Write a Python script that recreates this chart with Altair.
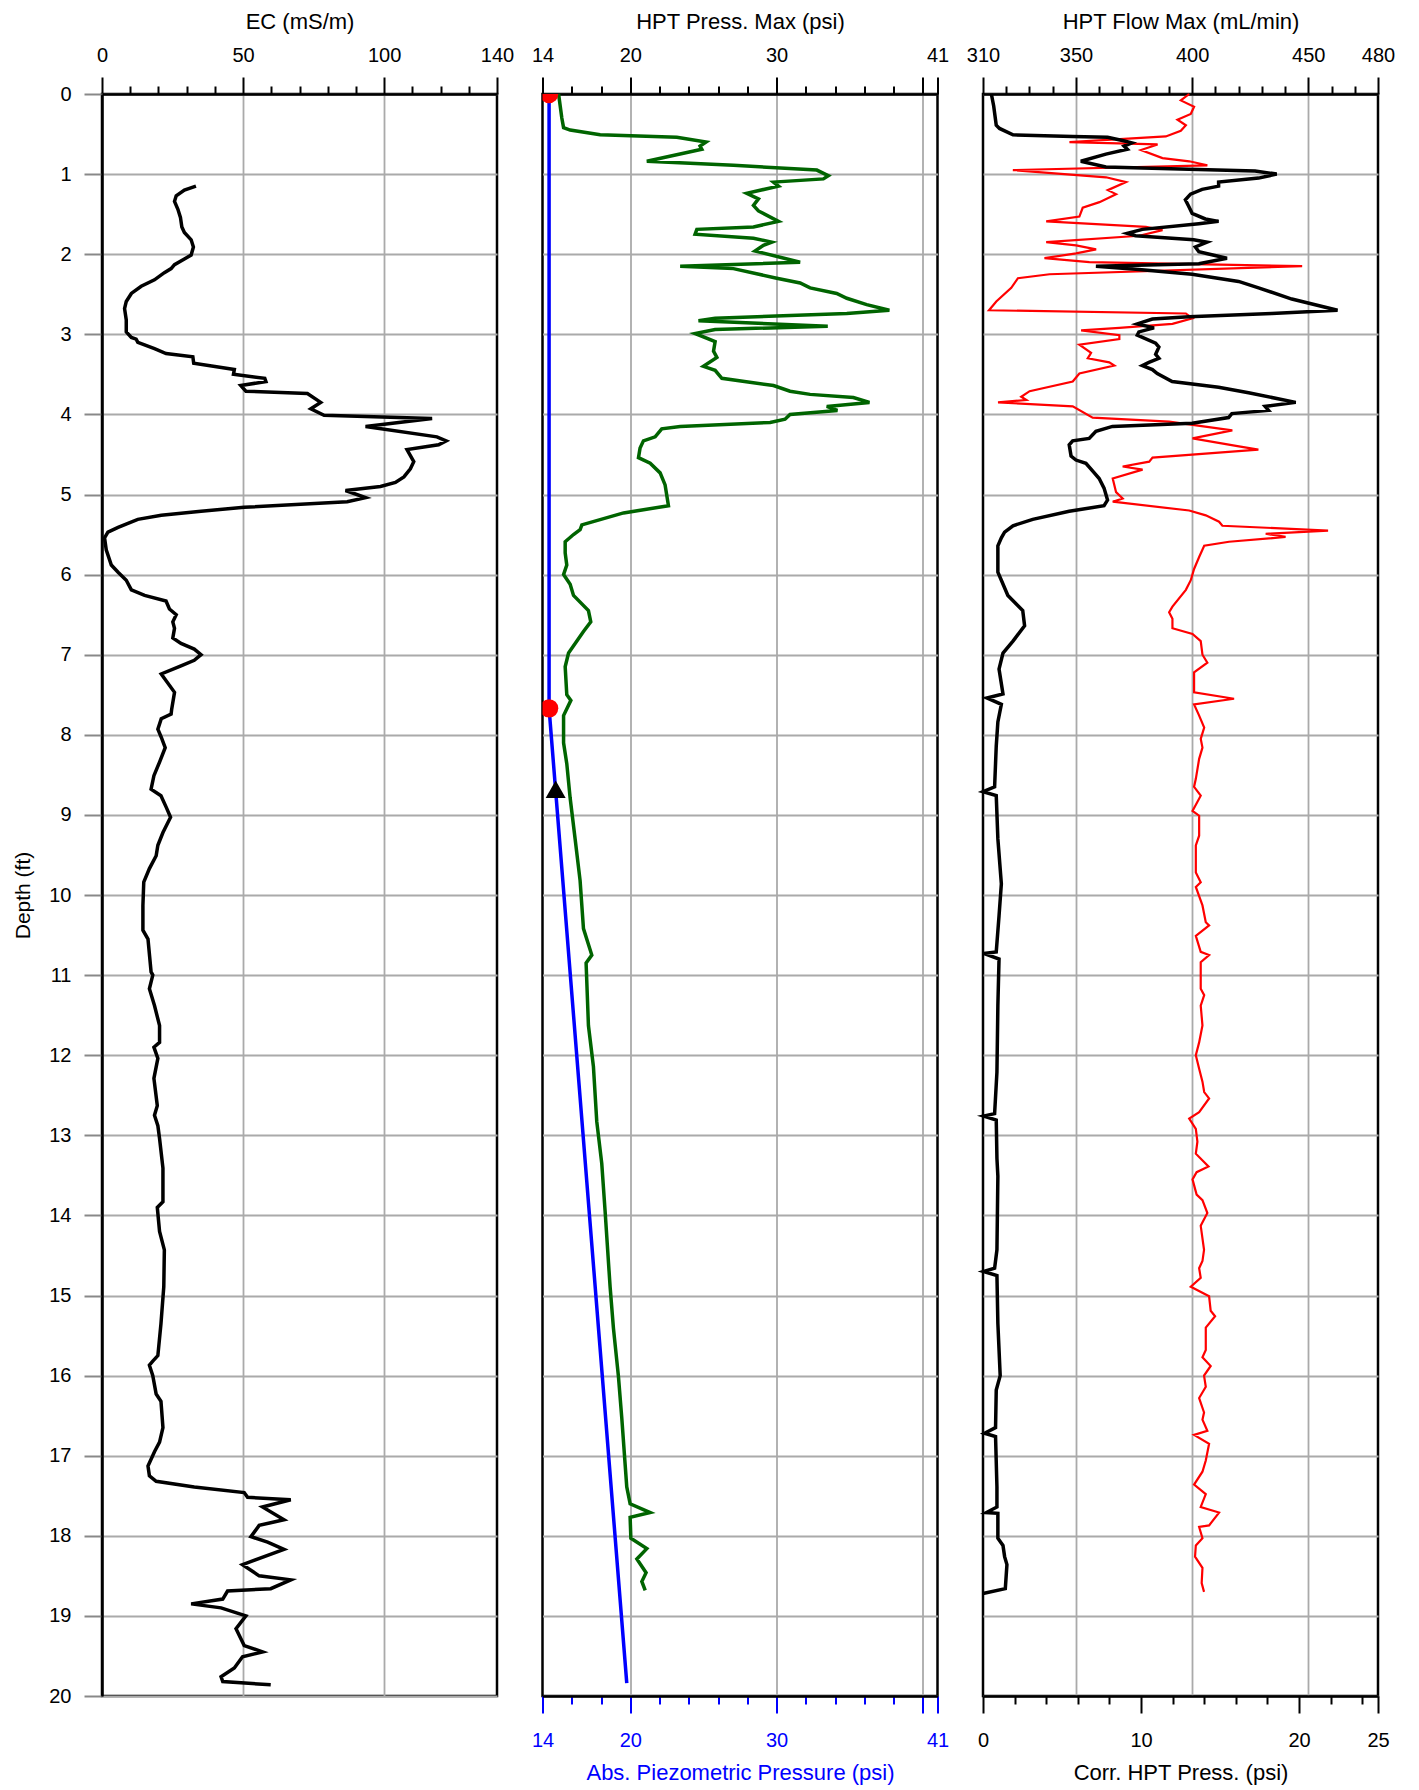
import altair as alt
import pandas as pd

FONT = "Liberation Sans"
W, H = 395, 1602

# ---------------- EC (mS/m) ----------------
ec_depth = [1.15, 1.20, 1.27, 1.34, 1.44, 1.54, 1.66, 1.73, 1.82, 1.91, 2.01, 2.06, 2.13, 2.18, 2.23,
            2.32, 2.40, 2.49, 2.59, 2.68, 2.82, 2.97, 3.04, 3.06, 3.10, 3.18, 3.24, 3.28, 3.36, 3.44,
            3.50, 3.55, 3.59, 3.64, 3.71, 3.74, 3.85, 3.93, 4.01, 4.05, 4.15, 4.28, 4.33, 4.38, 4.44,
            4.59, 4.68, 4.78, 4.85, 4.90, 4.95, 5.04, 5.09, 5.16, 5.21, 5.26, 5.31, 5.36, 5.41, 5.47,
            5.54, 5.69, 5.88, 5.97, 6.07, 6.19, 6.26, 6.33, 6.43, 6.50, 6.59, 6.67, 6.79, 6.86, 6.93,
            7.00, 7.07, 7.14, 7.24, 7.47, 7.68, 7.74, 7.80, 7.93, 8.03, 8.16, 8.34, 8.51, 8.68, 8.76,
            8.90, 9.03, 9.22, 9.38, 9.51, 9.67, 9.84, 10.13, 10.44, 10.55, 10.96, 11.00, 11.17, 11.38,
            11.63, 11.84, 11.90, 12.04, 12.29, 12.63, 12.75, 12.88, 13.04, 13.41, 13.83, 13.90, 14.20,
            14.43, 14.89, 15.35, 15.75, 15.82, 15.87, 16.00, 16.23, 16.32, 16.65, 16.83, 16.95, 17.13,
            17.25, 17.32, 17.39, 17.46, 17.52, 17.55, 17.64, 17.80, 17.87, 18.01, 18.08, 18.17, 18.36,
            18.50, 18.55, 18.66, 18.69, 18.79, 18.85, 18.90, 19.00, 19.16, 19.37, 19.45, 19.51, 19.65,
            19.76, 19.82, 19.86]
ec_val = [33.3, 29.2, 26.3, 25.7, 26.9, 27.8, 28.3, 29.2, 31.6, 32.4, 31.6, 29.2, 25.7, 24.5, 22.1,
          18.6, 13.9, 10.4, 8.6, 8.0, 8.6, 8.6, 10.4, 12.1, 12.7, 18.6, 22.7, 32.2, 32.5, 46.9,
          46.6, 57.7, 58.1, 49.2, 51.0, 72.8, 77.5, 74.0, 78.7, 117.0, 93.4, 118.7, 122.0, 119.3, 108.1,
          110.5, 109.3, 107.0, 104.0, 98.7, 86.3, 93.4, 86.9, 50.4, 35.1, 21.0, 12.7, 9.2, 5.7, 2.1,
          0.9, 1.5, 3.3, 5.7, 8.6, 10.4, 15.1, 22.7, 23.9, 26.3, 25.1, 25.7, 25.1, 28.0, 32.7,
          35.1, 32.7, 28.0, 21.0, 25.7, 24.7, 24.5, 21.0, 19.8, 21.0, 22.4, 20.4, 18.4, 17.4, 20.9,
          22.7, 24.3, 21.6, 19.8, 19.2, 16.8, 14.8, 14.5, 14.5, 16.3, 17.4, 18.0, 16.8, 18.6,
          20.4, 20.4, 18.4, 19.8, 18.4, 19.6, 18.6, 19.8, 20.4, 21.6, 21.6, 19.6, 20.4,
          22.1, 21.9, 20.9, 19.8, 18.0, 16.8, 18.0, 19.2, 20.9, 21.6, 20.4, 18.6, 16.3,
          16.8, 19.2, 32.7, 50.4, 51.6, 66.9, 56.9, 64.5, 55.7, 52.8, 58.7, 64.5, 49.8,
          55.7, 66.9, 59.8, 44.5, 42.8, 31.6, 42.2, 51.0, 47.5, 50.4, 56.9, 49.8, 46.9,
          42.2, 42.8, 59.8]

# ---------------- HPT Press. Max (psi) ----------------
press_depth = [0.00, 0.15, 0.30, 0.42, 0.45, 0.51, 0.54, 0.60, 0.65, 0.69, 0.84, 0.89, 0.95, 1.02, 1.06,
               1.10, 1.15, 1.24, 1.31, 1.39, 1.46, 1.59, 1.66, 1.69, 1.75, 1.80, 1.85, 1.89, 1.96, 2.10,
               2.15, 2.18, 2.30, 2.36, 2.42, 2.49, 2.55, 2.63, 2.70, 2.74, 2.80, 2.83, 2.90, 2.94, 2.99,
               3.09, 3.21, 3.29, 3.40, 3.45, 3.55, 3.64, 3.71, 3.75, 3.79, 3.85, 3.90, 3.95, 4.00, 4.06,
               4.10, 4.15, 4.18, 4.28, 4.33, 4.42, 4.54, 4.61, 4.73, 4.88, 5.14, 5.23, 5.38, 5.44, 5.50,
               5.59, 5.73, 5.88, 6.00, 6.12, 6.26, 6.45, 6.59, 6.71, 6.83, 6.98, 7.15, 7.50, 7.57, 7.76,
               8.10, 8.36, 8.79, 9.30, 9.82, 10.42, 10.75, 10.85, 11.63, 12.14, 12.83, 13.35, 13.95,
               14.89, 15.41, 16.01, 16.53, 17.39, 17.60, 17.71, 17.77, 18.03, 18.16, 18.29, 18.46,
               18.57, 18.68]
press_val = [15.10, 15.21, 15.32, 15.44, 15.89, 17.94, 23.18, 25.18, 24.77, 24.89, 21.13, 27.05, 32.75, 33.54, 33.20,
             29.79, 30.13, 27.96, 28.76, 28.42, 28.76, 30.13, 28.42, 24.55, 24.43, 28.42, 29.67, 29.10, 28.53, 31.61,
             23.41, 27.05, 30.01, 31.61, 32.29, 34.11, 34.80, 36.16, 37.71, 34.80, 25.80, 24.66, 33.50, 25.80, 24.43,
             25.80, 25.69, 25.92, 25.00, 25.80, 26.26, 29.79, 30.92, 32.29, 35.25, 36.35, 33.43, 34.16, 30.92, 30.58,
             29.56, 23.41, 22.15, 21.70, 20.90, 20.67, 20.56, 21.36, 22.04, 22.38, 22.61, 19.54, 16.69, 16.57, 16.12,
             15.55, 15.55, 15.66, 15.44, 15.89, 16.12, 17.14, 17.30, 16.80, 16.35, 15.78, 15.55, 15.66, 15.94, 15.44,
             15.44, 15.66, 15.89, 16.23, 16.57, 16.80, 17.37, 16.98, 17.14, 17.48, 17.71, 18.05, 18.28,
             18.62, 18.85, 19.19, 19.42, 19.76, 19.99, 21.36, 19.99, 20.04, 21.13, 20.45, 21.08,
             20.79, 21.02]

# ---------------- Abs. Piezometric Pressure (psi) ----------------
piezo_depth = [0.0, 7.67, 19.84]
piezo_val = [14.45, 14.45, 19.76]
dot_depth = [0.0, 7.67]
dot_val = [14.45, 14.45]
tri_depth = [8.68]
tri_val = [14.9]

# ---------------- HPT Flow Max (mL/min) ----------------
flow_depth = [0.00, 0.15, 0.39, 0.43, 0.51, 0.53, 0.54, 0.58, 0.61, 0.65, 0.69, 0.75, 0.84, 0.91, 0.94,
              0.96, 1.00, 1.05, 1.10, 1.15, 1.19, 1.25, 1.32, 1.39, 1.49, 1.56, 1.59, 1.62, 1.69, 1.74,
              1.77, 1.82, 1.85, 1.91, 1.97, 2.05, 2.12, 2.15, 2.19, 2.25, 2.34, 2.42, 2.56, 2.70, 2.74,
              2.78, 2.81, 2.87, 2.92, 2.97, 3.01, 3.11, 3.16, 3.25, 3.30, 3.35, 3.39, 3.44, 3.49, 3.59,
              3.66, 3.73, 3.85, 3.90, 3.95, 3.99, 4.04, 4.11, 4.15, 4.21, 4.30, 4.33, 4.38, 4.52, 4.57,
              4.61, 4.73, 4.80, 4.92, 5.07, 5.14, 5.21, 5.31, 5.39, 5.47, 5.54, 5.64, 5.97, 6.07, 6.26,
              6.45, 6.64, 6.83, 6.98, 7.18, 7.49, 7.54, 7.62, 7.84, 8.14, 8.65, 8.71, 8.76, 9.30, 9.86,
              10.26, 10.71, 10.73, 10.80, 11.38, 12.21, 12.73, 12.76, 12.81, 13.29, 13.51, 14.43, 14.66,
              14.70, 14.75, 15.35, 16.00, 16.18, 16.65, 16.72, 16.76, 17.39, 17.64, 17.71, 17.72, 18.03,
              18.12, 18.26, 18.36, 18.66, 18.72]
flow_val = [313.6, 314.6, 315.7, 317.1, 322.9, 348.6, 363.6, 370.0, 374.0, 370.7, 372.1, 362.9, 352.1, 362.9, 398.6,
            427.1, 436.4, 428.6, 411.4, 411.4, 404.3, 399.3, 397.1, 398.3, 400.0, 405.7, 411.4, 402.9, 378.6, 372.1,
            375.7, 400.7, 406.4, 401.4, 402.9, 415.0, 402.9, 358.6, 377.1, 400.0, 420.0, 428.6, 442.9, 462.6, 434.3,
            398.6, 382.9, 376.4, 383.6, 377.1, 376.4, 384.3, 385.7, 384.3, 385.7, 381.4, 378.6, 382.9, 385.0, 391.4,
            411.4, 424.3, 444.6, 431.4, 432.9, 417.1, 415.7, 400.0, 365.7, 358.6, 355.7, 348.6, 347.1, 347.9, 350.0,
            354.3, 357.9, 360.0, 362.1, 363.6, 362.1, 347.1, 331.4, 322.9, 319.3, 317.9, 316.4, 316.4, 317.9, 320.7,
            327.1, 327.9, 322.9, 318.6, 316.9, 318.6, 311.7, 317.9, 316.4, 315.7, 315.0, 310.0, 315.7, 316.4, 317.9,
            316.9, 315.7, 310.3, 316.9, 316.4, 316.0, 315.0, 310.3, 315.7, 316.0, 316.4, 316.0, 315.0,
            310.3, 316.0, 316.4, 317.4, 315.7, 315.4, 310.7, 315.4, 316.0, 316.0, 311.4, 316.4, 316.4,
            318.6, 319.3, 320.3, 319.6, 310.0]

# ---------------- Corr. HPT Press. (psi) ----------------
corr_depth = [0.00, 0.08, 0.16, 0.25, 0.32, 0.39, 0.46, 0.53, 0.60, 0.63, 0.70, 0.80, 0.84, 0.89, 0.95,
              1.04, 1.10, 1.20, 1.25, 1.35, 1.42, 1.53, 1.59, 1.66, 1.70, 1.77, 1.85, 1.89, 1.94, 1.99,
              2.05, 2.10, 2.15, 2.25, 2.30, 2.42, 2.59, 2.70, 2.74, 2.80, 2.87, 2.92, 2.95, 3.01, 3.06,
              3.13, 3.23, 3.30, 3.35, 3.39, 3.49, 3.59, 3.71, 3.78, 3.82, 3.85, 3.90, 4.04, 4.09, 4.20,
              4.30, 4.40, 4.44, 4.54, 4.59, 4.65, 4.69, 4.80, 4.97, 5.05, 5.09, 5.20, 5.26, 5.34, 5.39,
              5.45, 5.49, 5.53, 5.59, 5.64, 5.78, 5.93, 6.07, 6.19, 6.40, 6.47, 6.55, 6.67, 6.74, 6.83,
              7.00, 7.10, 7.22, 7.47, 7.55, 7.62, 7.76, 7.91, 8.05, 8.16, 8.30, 8.55, 8.65, 8.76, 8.95,
              9.01, 9.26, 9.38, 9.72, 9.84, 9.90, 10.13, 10.34, 10.38, 10.51, 10.71, 10.75, 10.84, 11.17,
              11.25, 11.38, 11.63, 11.84, 12.00, 12.17, 12.33, 12.46, 12.54, 12.71, 12.79, 12.92, 13.08,
              13.23, 13.39, 13.46, 13.55, 13.74, 13.81, 13.97, 14.13, 14.43, 14.57, 14.66, 14.78, 14.89,
              15.01, 15.19, 15.26, 15.40, 15.68, 15.77, 15.88, 16.00, 16.14, 16.28, 16.46, 16.55, 16.69,
              16.74, 16.85, 17.06, 17.20, 17.36, 17.48, 17.64, 17.71, 17.87, 17.89, 18.03, 18.12, 18.26,
              18.40, 18.59, 18.70]
corr_val = [13.05, 12.52, 13.36, 13.15, 12.31, 12.84, 12.52, 11.57, 5.47, 11.05, 10.00, 11.36, 13.05, 14.20, 1.89,
            7.79, 9.05, 7.90, 8.42, 7.37, 6.31, 6.10, 4.00, 10.31, 11.36, 9.89, 4.00, 5.89, 7.16, 5.89,
            3.89, 6.73, 20.20, 4.21, 2.21, 1.79, 0.84, 0.38, 12.84, 13.26, 11.99, 8.63, 6.21, 8.63, 8.63,
            6.10, 6.84, 6.63, 7.99, 8.31, 6.10, 5.68, 2.95, 2.42, 2.74, 0.95, 5.68, 6.94, 11.78, 15.78,
            13.26, 16.20, 17.43, 10.73, 10.52, 8.84, 10.10, 8.21, 8.42, 8.84, 8.21, 13.05, 14.10, 14.94, 15.15,
            21.84, 17.89, 19.15, 15.57, 14.00, 13.68, 13.36, 13.15, 12.84, 11.99, 11.78, 11.99, 11.99, 13.26, 13.78,
            13.89, 14.20, 13.36, 13.36, 15.89, 13.36, 13.68, 14.00, 13.78, 13.89, 13.68, 13.47, 13.36, 13.78, 13.26,
            13.68, 13.68, 13.47, 13.47, 13.78, 13.47, 13.89, 14.10, 14.31, 13.47, 13.78, 14.31, 13.78, 13.78,
            14.00, 13.78, 13.89, 13.68, 13.47, 13.68, 13.89, 14.00, 14.31, 13.68, 13.05, 13.47, 13.57,
            13.47, 14.27, 13.52, 13.26, 13.52, 13.89, 14.20, 13.78, 13.99, 13.89, 13.68, 13.78, 13.15,
            14.31, 14.41, 14.69, 14.10, 14.10, 13.89, 14.41, 13.99, 14.10, 13.68, 13.99, 13.89, 14.20,
            13.36, 14.31, 14.10, 13.89, 13.36, 14.10, 13.78, 14.94, 14.31, 13.68, 13.89, 13.47, 13.42,
            13.89, 13.84, 13.99]

# ---------------- axis tick definitions ----------------
ec_ticks = list(range(0, 141, 10))
ec_labels = [0, 50, 100, 140]
ec_grid = [50, 100]
press_ticks = list(range(14, 41, 2)) + [41]
press_labels = [14, 20, 30, 41]
press_grid = [20, 30, 40]
flow_ticks = list(range(310, 481, 10))
flow_labels = [310, 350, 400, 450, 480]
flow_grid = [350, 400, 450]
corr_ticks = list(range(0, 25, 2)) + [25]
corr_labels = [0, 10, 20, 25]
depth_ticks = [i * 0.5 for i in range(41)]


def frame(d, v):
    return pd.DataFrame({"depth": d, "v": v, "i": list(range(len(d)))})


def anyeq(vals):
    return " || ".join(f"abs(datum.value - {v}) < 1e-6" for v in vals)


def x_axis(orient, values, labeled, long_vals, grid_vals, title, color="black"):
    top = orient == "top"
    kw = dict(
        orient=orient, values=values, title=title, format="d",
        labelExpr=f"({anyeq(labeled)}) ? datum.label : ''",
        tickSize={"condition": {"test": anyeq(long_vals), "value": 17}, "value": 8},
        labelOverlap=False, labelFlush=False, labelBound=False,
        labelPadding=12 if top else 17, titlePadding=12 if top else 12,
        tickColor=color, labelColor=color, titleColor=color,
    )
    if grid_vals:
        kw["grid"] = True
        kw["gridOpacity"] = {"condition": {"test": anyeq(grid_vals), "value": 1}, "value": 0}
    else:
        kw["grid"] = False
    return alt.Axis(**kw)


yscale = alt.Scale(domain=[0, 20], reverse=True, nice=False, zero=False)

y_left = alt.Y("depth:Q", scale=yscale, axis=alt.Axis(
    values=depth_ticks, title="Depth (ft)", orient="left", format="d",
    labelExpr="datum.value % 1 === 0 ? datum.label : ''",
    tickSize={"condition": {"test": "datum.value % 1 === 0", "value": 18}, "value": 8},
    grid=True,
    gridOpacity={"condition": {"test": "datum.value % 1 === 0", "value": 1}, "value": 0},
    labelOverlap=False, labelFlush=False, labelBound=False,
    labelPadding=13, titlePadding=15, titleFontSize=21, domain=True))

y_inner = alt.Y("depth:Q", scale=yscale, axis=alt.Axis(
    values=list(range(21)), labels=False, ticks=False, domain=False, grid=True, title=None))

order = alt.Order("i:Q")

# ---- left panel: EC ----
ec_x = alt.X("v:Q", scale=alt.Scale(domain=[0, 140], nice=False, zero=False),
             axis=x_axis("top", ec_ticks, ec_labels, ec_labels + ec_grid, ec_grid, "EC (mS/m)"))
left = alt.Chart(frame(ec_depth, ec_val)).mark_line(color="black", strokeWidth=3.5).encode(
    x=ec_x, y=y_left, order=order).properties(width=W, height=H)

# ---- middle panel ----
press_x = alt.X("v:Q", scale=alt.Scale(domain=[14, 41], nice=False, zero=False),
                axis=x_axis("top", press_ticks, press_labels, press_labels + press_grid, press_grid,
                            "HPT Press. Max (psi)"))
piezo_x = alt.X("v:Q", scale=alt.Scale(domain=[14, 41], nice=False, zero=False),
                axis=x_axis("bottom", press_ticks, press_labels, press_labels + press_grid, [],
                            "Abs. Piezometric Pressure (psi)", color="#0000ff"))
green = alt.Chart(frame(press_depth, press_val)).mark_line(color="#006400", strokeWidth=3.5).encode(
    x=press_x, y=y_inner, order=order)
blue = alt.Chart(frame(piezo_depth, piezo_val)).mark_line(color="#0000ff", strokeWidth=3.5).encode(
    x=piezo_x, y=y_inner, order=order)
dots = alt.Chart(frame(dot_depth, dot_val)).mark_circle(color="#ff0000", size=340, opacity=1, clip=True).encode(
    x=piezo_x, y=y_inner)
tri = alt.Chart(frame(tri_depth, tri_val)).mark_point(shape="triangle-up", filled=True, color="black",
                                                      size=400, opacity=1).encode(x=piezo_x, y=y_inner)
middle = alt.layer(green, alt.layer(blue, dots, tri)).resolve_scale(x="independent").properties(
    width=W, height=H)

# ---- right panel ----
flow_x = alt.X("v:Q", scale=alt.Scale(domain=[310, 480], nice=False, zero=False),
               axis=x_axis("top", flow_ticks, flow_labels, flow_labels + flow_grid, flow_grid,
                           "HPT Flow Max (mL/min)"))
corr_x = alt.X("v:Q", scale=alt.Scale(domain=[0, 25], nice=False, zero=False),
               axis=x_axis("bottom", corr_ticks, corr_labels, corr_labels, [], "Corr. HPT Press. (psi)"))
red = alt.Chart(frame(corr_depth, corr_val)).mark_line(color="#ff0000", strokeWidth=2.2).encode(
    x=corr_x, y=y_inner, order=order)
blk = alt.Chart(frame(flow_depth, flow_val)).mark_line(color="black", strokeWidth=3.5).encode(
    x=flow_x, y=y_inner, order=order)
right = alt.layer(red, blk).resolve_scale(x="independent").properties(width=W, height=H)

chart = alt.hconcat(left, middle, right, spacing=45.5, bounds="flush").properties(
    padding={"left": 3, "top": 0, "right": 5, "bottom": 0},
    background="white",
).configure_view(
    stroke="black", strokeWidth=2.5
).configure_axis(
    labelFont=FONT, titleFont=FONT, labelFontSize=20, titleFontSize=22, titleFontWeight="normal",
    domainColor="black", domainWidth=2.5, tickWidth=2, gridColor="#aaaaaa", gridWidth=1.8,
)

chart.save("out.html", embed_options={"renderer": "svg", "actions": False})
